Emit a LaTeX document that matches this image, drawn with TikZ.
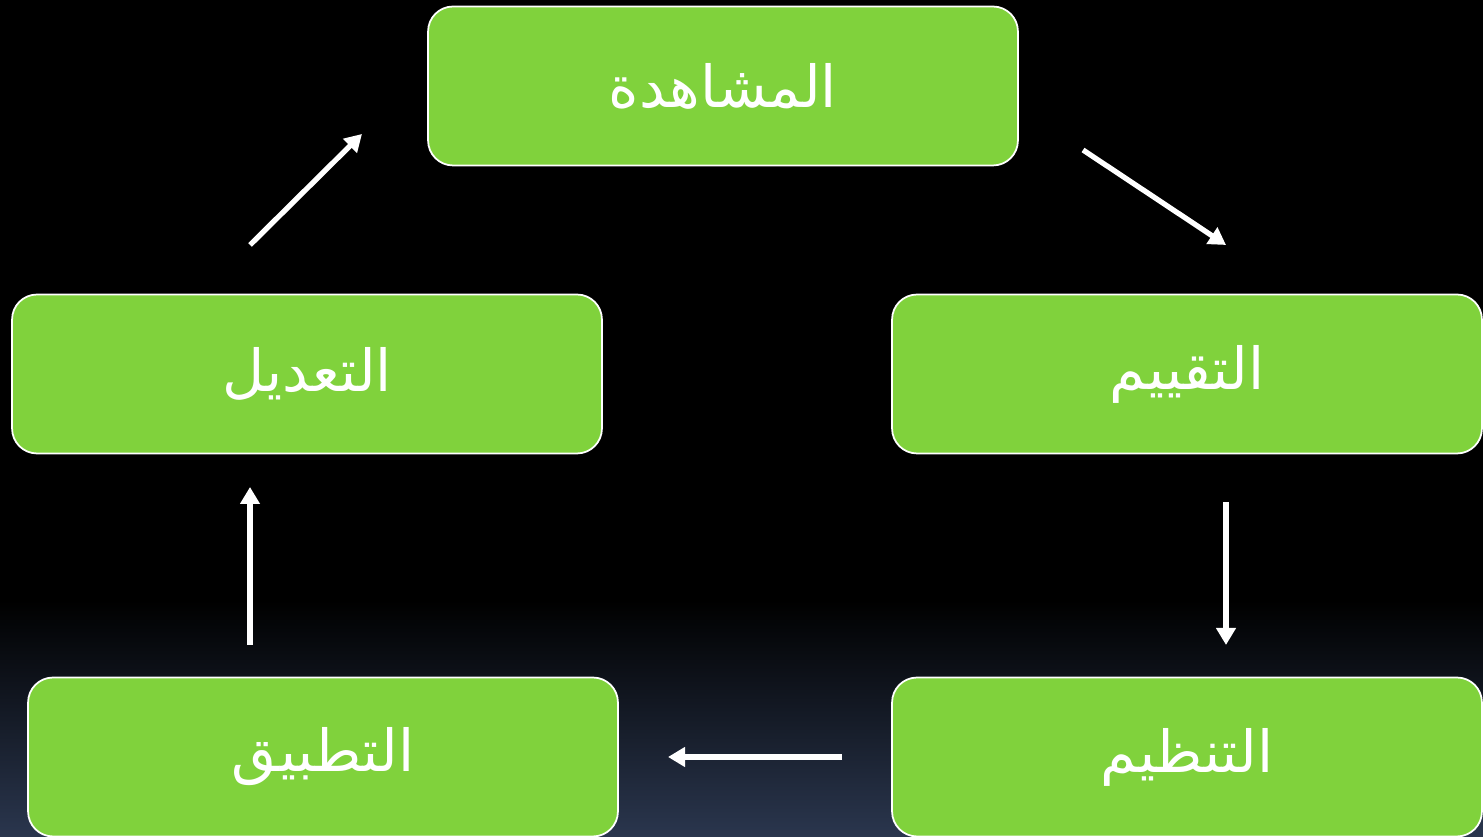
\documentclass[tikz,border=0pt]{standalone}
\usepackage{fontspec}
\newfontfamily\arabicfont[Script=Arabic]{DejaVu Sans}
\TeXXeTstate=1
\usetikzlibrary{arrows.meta}
\definecolor{boxgreen}{RGB}{128,210,60}
\definecolor{bgblue}{RGB}{42,54,78}
\tikzset{
  stage/.style={draw=white,line width=1pt,fill=boxgreen,rounded corners=0.5cm,
    minimum width=11.8cm,minimum height=3.18cm,text=white,font=\arabicfont\fontsize{33}{40}\selectfont},
  flow/.style={draw=white,line width=3pt,-{Triangle[length=0.34cm,width=0.38cm]}}
}
\begin{document}
\begin{tikzpicture}[x=0.02cm,y=0.02cm]

% background
\fill[black] (0,0) rectangle (1483,837);
\shade[top color=black,bottom color=bgblue] (0,0) rectangle (1483,237);
\useasboundingbox (0,0) rectangle (1483,837);

\node[stage] (obs) at (723,751) {\beginR المشاهدة\endR};
\node[stage] (eval) at (1187,463) {\beginR التقييم\endR};
\node[stage] (org) at (1187,80) {\beginR التنظيم\endR};
\node[stage] (app) at (323,80) {\beginR التطبيق\endR};
\node[stage] (adj) at (307,463) {\beginR التعديل\endR};

\coordinate (a1) at (1083,687);
\coordinate (b1) at (1226,592);
\coordinate (a2) at (1226,335);
\coordinate (b2) at (1226,192);
\coordinate (a3) at (842,80);
\coordinate (b3) at (668,80);
\coordinate (a4) at (250,192);
\coordinate (b4) at (250,350);
\coordinate (a5) at (250,592);
\coordinate (b5) at (362,703);

\draw[flow] (a1) -- (b1);
\draw[flow] (a2) -- (b2);
\draw[flow] (a3) -- (b3);
\draw[flow] (a4) -- (b4);
\draw[flow] (a5) -- (b5);

\end{tikzpicture}
\end{document}
